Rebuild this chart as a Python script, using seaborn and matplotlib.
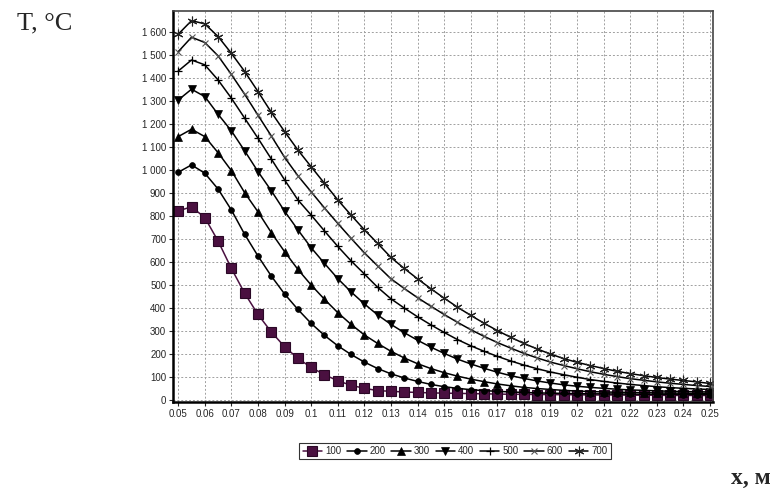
import numpy as np
import pandas as pd
import matplotlib
matplotlib.use("Agg")
import matplotlib.pyplot as plt
from matplotlib.ticker import MultipleLocator, FuncFormatter
import seaborn as sns

sns.set_style("ticks")
plt.rcParams['font.family'] = ['Liberation Sans', 'DejaVu Sans']

# distance, m
x_m = [0.05, 0.055, 0.06, 0.065, 0.07, 0.075, 0.08, 0.085, 0.09, 0.095,
       0.1, 0.105, 0.11, 0.115, 0.12, 0.125, 0.13, 0.135, 0.14, 0.145,
       0.15, 0.155, 0.16, 0.165, 0.17, 0.175, 0.18, 0.185, 0.19, 0.195,
       0.2, 0.205, 0.21, 0.215, 0.22, 0.225, 0.23, 0.235, 0.24, 0.245,
       0.25]

series_names = ['100', '200', '300', '400', '500', '600', '700']

t_100 = [822, 840, 793, 691, 572, 464, 372, 296, 232, 181,
         142, 110, 84, 64, 51, 41, 38, 35, 33, 31,
         30, 29, 28, 27, 26, 25, 25, 24, 24, 23,
         23, 22, 22, 22, 21, 21, 21, 20, 20, 20,
         20]
t_200 = [990, 1022, 986, 917, 826, 720, 626, 539, 461, 394,
         333, 281, 236, 198, 165, 137, 114, 96, 81, 68,
         58, 51, 45, 41, 38, 35, 33, 31, 30, 29,
         28, 27, 27, 26, 26, 25, 25, 25, 24, 24,
         24]
t_300 = [1145, 1177, 1145, 1075, 997, 901, 818, 728, 645, 568,
         500, 438, 380, 329, 283, 246, 212, 183, 158, 137,
         119, 104, 91, 80, 70, 62, 55, 50, 46, 42,
         39, 37, 35, 34, 33, 32, 31, 30, 30, 29,
         29]
t_400 = [1304, 1351, 1319, 1242, 1170, 1083, 993, 910, 821, 740,
         662, 594, 528, 470, 418, 370, 329, 293, 260, 230,
         203, 178, 157, 138, 121, 106, 94, 83, 74, 66,
         60, 55, 51, 47, 44, 42, 40, 38, 37, 36,
         35]
t_500 = [1430, 1478, 1457, 1391, 1312, 1225, 1138, 1048, 957, 870,
         804, 735, 668, 605, 548, 490, 440, 400, 362, 327,
         294, 263, 236, 212, 190, 170, 152, 136, 122, 110,
         99, 89, 81, 74, 68, 63, 58, 54, 51, 48,
         46]
t_600 = [1514, 1577, 1554, 1496, 1415, 1329, 1238, 1148, 1055, 975,
         905, 835, 768, 703, 640, 583, 527, 485, 445, 408,
         372, 338, 306, 277, 250, 226, 203, 183, 165, 150,
         136, 123, 112, 102, 93, 86, 79, 73, 68, 63,
         59]
t_700 = [1590, 1649, 1635, 1580, 1507, 1428, 1341, 1251, 1167, 1087,
         1014, 942, 870, 804, 740, 681, 620, 572, 527, 484,
         443, 404, 368, 334, 302, 273, 246, 222, 200, 180,
         164, 150, 137, 125, 115, 106, 98, 91, 85, 79,
         72]

all_t = [t_100, t_200, t_300, t_400, t_500, t_600, t_700]

df = pd.concat([pd.DataFrame({'x': x_m, 'T': t, 'series': name})
                for name, t in zip(series_names, all_t)], ignore_index=True)

# marker styles per series (Excel-like)
styles = {
    '100': dict(color='#4a1040', marker='s', markersize=6.5, mec='#2a0826', mfc='#4a1040', mew=0.8),
    '200': dict(color='black', marker='o', markersize=4.2, mec='black', mfc='black', mew=0.5),
    '300': dict(color='black', marker='^', markersize=5.5, mec='black', mfc='black', mew=0.5),
    '400': dict(color='black', marker='v', markersize=5.5, mec='black', mfc='black', mew=0.5),
    '500': dict(color='black', marker='+', markersize=6, mec='black', mew=0.9),
    '600': dict(color='black', marker='x', markersize=5, mew=0.8, mec='#555555'),
    '700': dict(color='black', marker=(6, 2, 0), markersize=7, mec='#222222', mew=0.8),
}

fig = plt.figure(figsize=(7.8, 4.88), dpi=100)
ax = fig.add_axes([0.222, 0.176, 0.692, 0.801])

for name in series_names:
    sub = df[df['series'] == name]
    sns.lineplot(data=sub, x='x', y='T', ax=ax, label=name, lw=1.1,
                 linestyle='-', **styles[name])

ax.set_xlim(0.0481, 0.2511)
ax.set_ylim(-9, 1690)
ax.xaxis.set_major_locator(MultipleLocator(0.01))
ax.yaxis.set_major_locator(MultipleLocator(100))
ax.xaxis.set_major_formatter(FuncFormatter(lambda v, p: '%g' % round(v, 3)))
ax.yaxis.set_major_formatter(FuncFormatter(lambda v, p: '{:,}'.format(int(round(v))).replace(',', ' ')))
ax.tick_params(axis='both', labelsize=7, length=3, width=0.8, direction='out', pad=2)
ax.grid(True, color='#a0a0a0', linestyle=(0, (2, 2)), linewidth=0.7)
ax.set_xlabel('')
ax.set_ylabel('')

for side in ['left', 'bottom']:
    ax.spines[side].set_linewidth(1.8)
    ax.spines[side].set_color('black')
for side in ['top', 'right']:
    ax.spines[side].set_linewidth(1.2)
    ax.spines[side].set_color('#444444')

handles, labels = ax.get_legend_handles_labels()
ax.get_legend().remove()
leg = fig.legend(handles, labels, ncol=7, loc='center',
                 bbox_to_anchor=(455 / 780, 1 - 451 / 488),
                 fontsize=7, frameon=True, fancybox=False, edgecolor='black',
                 handlelength=2.0, handletextpad=0.3, columnspacing=0.6,
                 borderpad=0.35)
leg.get_frame().set_linewidth(0.8)

fig.text(17 / 780, 1 - 23 / 488, 'T, °C', family=['Liberation Serif', 'DejaVu Serif'],
         fontsize=19, ha='left', va='center')
fig.text(731 / 780, 1 - 478 / 488, 'x, м', family=['Liberation Serif', 'DejaVu Serif'],
         fontsize=17, fontweight='bold', ha='left', va='center')

fig.savefig('out.png', dpi=100, facecolor='white')
